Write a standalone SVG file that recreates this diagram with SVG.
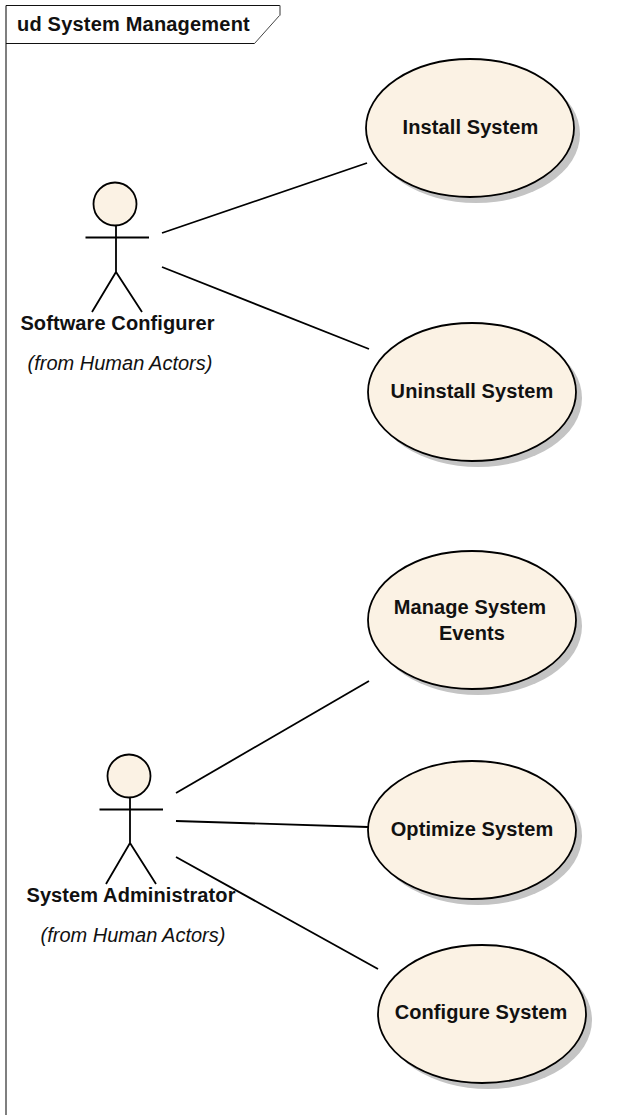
<svg xmlns="http://www.w3.org/2000/svg" width="617" height="1115" viewBox="0 0 617 1115">
<style>
text{font-family:"Liberation Sans",Arial,sans-serif;fill:#111;text-anchor:middle;font-size:20px}
.b{font-weight:bold;letter-spacing:.1px}
.i{font-style:italic}
.s{fill:#c4c4c4;stroke:none}
.e{fill:#fbf2e4;stroke:#000;stroke-width:1.8}
.l{stroke:#000;stroke-width:1.8;fill:none}
</style>
<rect width="617" height="1115" fill="#fff"/>
<g id="frame">
<path d="M6 1115V5.500" fill="none" stroke="#555" stroke-width="1.500"/>
<path d="M6 5.500H280" fill="none" stroke="#111" stroke-width="1"/>
<path d="M280 5.500V15.500" fill="none" stroke="#777" stroke-width="1.500"/>
<path d="M279.500 15.500L254.500 43.500" fill="none" stroke="#444" stroke-width="1"/>
<path d="M254.500 43.500H6" fill="none" stroke="#111" stroke-width="1"/>
<text x="17" y="31" class="b" style="text-anchor:start;letter-spacing:.2px">ud System Management</text>
</g>
<g id="connectors">
<path class="l" d="M162 233L367 163"/>
<path class="l" d="M162 267L369 349"/>
<path class="l" d="M176 793L369 681"/>
<path class="l" d="M176 821L368 827"/>
<path class="l" d="M176 857L378 969"/>
</g>
<g id="actor-software-configurer">
<circle class="e" cx="115" cy="204" r="21.500"/>
<path class="l" d="M85.500 237.500H149M116 226V272M92 312L116 272L142 312"/>
<text x="117.500" y="330" class="b">Software Configurer</text>
<text x="120" y="370" class="i">(from Human Actors)</text>
</g>
<g id="actor-system-administrator">
<circle class="e" cx="129" cy="776" r="21.500"/>
<path class="l" d="M99.500 809.500H163M130 798V843M106 884L130 843L156 884"/>
<text x="131" y="902" class="b">System Administrator</text>
<text x="133" y="942" class="i">(from Human Actors)</text>
</g>
<g id="uc-install"><ellipse class="s" cx="476" cy="134" rx="104" ry="69"/><ellipse class="e" cx="470" cy="128" rx="104" ry="69"/><text x="470.500" y="134" class="b">Install System</text></g>
<g id="uc-uninstall"><ellipse class="s" cx="478" cy="398" rx="104" ry="69"/><ellipse class="e" cx="472" cy="392" rx="104" ry="69"/><text x="472" y="398" class="b">Uninstall System</text></g>
<g id="uc-manage"><ellipse class="s" cx="478" cy="626" rx="104" ry="69"/><ellipse class="e" cx="472" cy="620" rx="104" ry="69"/><text x="470" y="614" class="b">Manage System</text><text x="472" y="640" class="b">Events</text></g>
<g id="uc-optimize"><ellipse class="s" cx="478" cy="836" rx="104" ry="69"/><ellipse class="e" cx="472" cy="830" rx="104" ry="69"/><text x="472" y="836" class="b">Optimize System</text></g>
<g id="uc-configure"><ellipse class="s" cx="488" cy="1020" rx="104" ry="69"/><ellipse class="e" cx="482" cy="1014" rx="104" ry="69"/><text x="481" y="1019" class="b">Configure System</text></g>
</svg>
